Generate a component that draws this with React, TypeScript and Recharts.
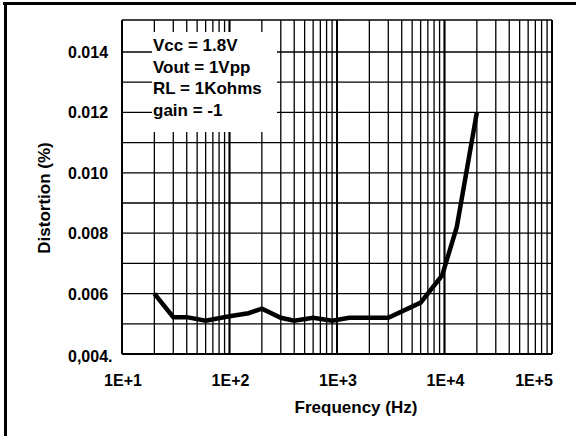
import { LineChart, Line, XAxis, YAxis, CartesianGrid, ReferenceLine } from "recharts";

const FONT = "'Liberation Sans', Arial, sans-serif";

// measured curve (Hz, %)
const frequencies = [20, 30, 40, 60, 100, 150, 200, 300, 400, 600, 900, 1300, 3000, 6000, 9500, 13000, 20000];
const distortion = [
  0.006, 0.00522, 0.00522, 0.0051, 0.00525, 0.00535, 0.0055, 0.0052, 0.0051, 0.0052, 0.0051, 0.0052,
  0.0052, 0.0057, 0.0066, 0.0082, 0.012,
];

const decades = [10, 100, 1000, 10000, 100000];
const decadeLabels = ["1E+1", "1E+2", "1E+3", "1E+4", "1E+5"];

const yTicks = [0.004, 0.005, 0.006, 0.007, 0.008, 0.009, 0.01, 0.011, 0.012, 0.013, 0.014];
const yTickLabels = ["0,004.", "", "0.006", "", "0.008", "", "0.010", "", "0.012", "", "0.014"];

const infoLines = ["Vcc = 1.8V", "Vout = 1Vpp", "RL = 1Kohms", "gain = -1"];

const data = frequencies.map((f, i) => ({ f, d: distortion[i] }));

// log grid: 1..9 in each decade
const xGrid: number[] = [];
decades.slice(0, -1).forEach((d) => {
  for (let k = 1; k <= 9; k++) xGrid.push(k * d);
});
xGrid.push(100000);

function XTick(props: any) {
  const { x, y, payload } = props;
  const i = decades.indexOf(payload.value);
  if (i < 0) return <g />;
  const last = i === decades.length - 1;
  return (
    <text
      x={x + 1}
      y={y + 32}
      textAnchor={last ? "end" : "middle"}
      fontFamily={FONT}
      fontWeight="bold"
      fontSize={16}
      fill="#000"
    >
      {decadeLabels[i]}
    </text>
  );
}

function YTick(props: any) {
  const { x, y, payload } = props;
  const i = yTicks.indexOf(payload.value);
  const label = i >= 0 ? yTickLabels[i] : "";
  if (!label) return <g />;
  return (
    <text
      x={x - 54}
      y={y + (i === 0 ? 8 : 6)}
      textAnchor="start"
      fontFamily={FONT}
      fontWeight="bold"
      fontSize={16}
      fill="#000"
    >
      {label}
    </text>
  );
}

export default function App() {
  return (
    <div style={{ position: "absolute", left: 0, top: 0, width: 576, height: 436, background: "#fff" }}>
      <LineChart width={576} height={436} data={data} margin={{ top: 20, right: 24, left: 62, bottom: 42 }}>
        <CartesianGrid stroke="#000" strokeWidth={1.3} />
        {decades.map((d) => (
          <ReferenceLine key={d} x={d} stroke="#000" strokeWidth={2} />
        ))}
        <XAxis
          dataKey="f"
          type="number"
          scale="log"
          domain={[10, 100000]}
          ticks={xGrid}
          allowDataOverflow
          height={40}
          tickSize={0}
          tickMargin={0}
          interval={0}
          axisLine={{ stroke: "#000", strokeWidth: 2 }}
          tick={<XTick />}
          label={{
            content: () => (
              <text x={356} y={413} textAnchor="middle" fontFamily={FONT} fontWeight="bold" fontSize={17} fill="#000">
                Frequency (Hz)
              </text>
            ),
          }}
        />
        <YAxis
          type="number"
          domain={[0.004, 0.01506]}
          ticks={yTicks}
          allowDataOverflow
          width={60}
          tickSize={0}
          tickMargin={0}
          interval={0}
          axisLine={{ stroke: "#000", strokeWidth: 2 }}
          tick={<YTick />}
          label={{
            content: () => (
              <text
                x={50}
                y={198}
                transform="rotate(-90 50 198)"
                textAnchor="middle"
                fontFamily={FONT}
                fontWeight="bold"
                fontSize={17}
                fill="#000"
              >
                Distortion (%)
              </text>
            ),
          }}
        />
        <Line
          type="linear"
          dataKey="d"
          stroke="#000"
          strokeWidth={4.5}
          dot={false}
          isAnimationActive={false}
        />
      </LineChart>
      <svg width={576} height={436} style={{ position: "absolute", left: 0, top: 0, pointerEvents: "none" }}>
        <rect x={3} y={2} width={573} height={3} fill="#000" />
        <rect x={4} y={2} width={3} height={434} fill="#000" />
        <rect x={152} y={32} width={125} height={100} fill="#fff" />
        {infoLines.map((t, i) => (
          <text key={t} x={153} y={51 + i * 21.7} fontFamily={FONT} fontWeight="bold" fontSize={17} fill="#000">
            {t}
          </text>
        ))}
      </svg>
    </div>
  );
}
